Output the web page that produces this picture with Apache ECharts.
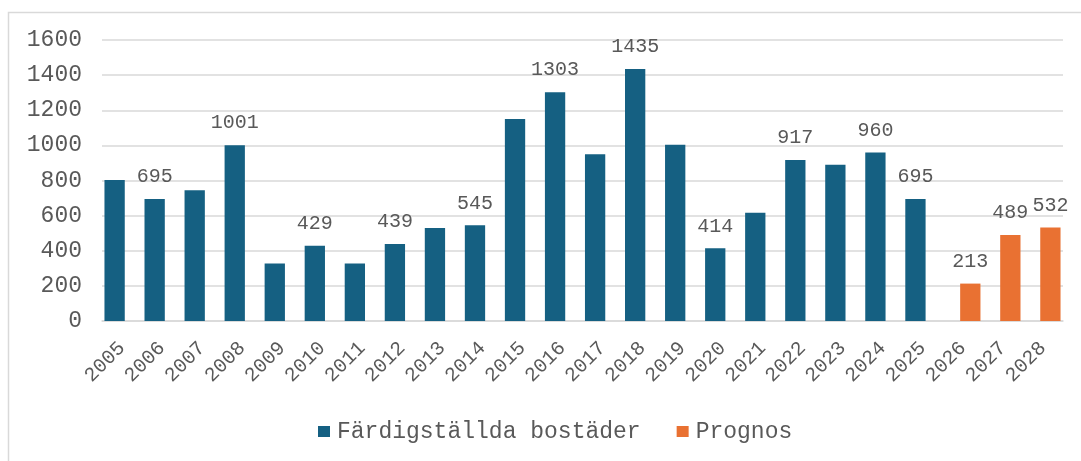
<!DOCTYPE html>
<html lang="sv">
<head>
<meta charset="utf-8">
<title>Färdigställda bostäder</title>
<script src="https://cdn.jsdelivr.net/npm/echarts@6/dist/echarts.min.js"></script>
<style>
  html, body { margin: 0; padding: 0; background: #ffffff; }
  #chart { width: 1081px; height: 461px; }
</style>
</head>
<body>
<div id="chart"></div>
<script>
// Years on the category axis
const years = ['2005', '2006', '2007', '2008', '2009', '2010', '2011', '2012',
  '2013', '2014', '2015', '2016', '2017', '2018', '2019', '2020', '2021',
  '2022', '2023', '2024', '2025', '2026', '2027', '2028'];

// Completed dwellings per year (null where only a forecast exists)
const completed = [803, 695, 745, 1001, 328, 429, 328, 439, 530, 545, 1150,
  1303, 950, 1435, 1004, 414, 617, 917, 890, 960, 695, null, null, null];

// Forecast for the coming years
const forecast = [null, null, null, null, null, null, null, null, null, null,
  null, null, null, null, null, null, null, null, null, null, null, 213, 489, 532];

// Years whose bar carries a value label
const labeledYears = ['2006', '2008', '2010', '2012', '2014', '2016', '2018',
  '2020', '2022', '2024', '2025', '2026', '2027', '2028'];

// Value axis ticks
const yMin = 0, yMax = 1600, yStep = 200;

const FONT = '"Liberation Mono", "DejaVu Sans Mono", monospace';
const TEXT = '#595959';
const GRID = '#d9d9d9';

function withLabels(values) {
  return values.map((v, i) => {
    if (v === null) return '-';
    return { value: v, label: { show: labeledYears.includes(years[i]) } };
  });
}

const chart = echarts.init(document.getElementById('chart'), null, { renderer: 'canvas' });

chart.setOption({
  animation: false,
  backgroundColor: '#ffffff',
  textStyle: { fontFamily: FONT },
  graphic: [{
    type: 'rect',
    shape: { x: 8.5, y: 12.5, width: 1200, height: 600 },
    style: { fill: 'none', stroke: GRID, lineWidth: 1.5 },
    silent: true
  }],
  grid: { left: 102, right: 18, top: 40, bottom: 140, containLabel: false },
  legend: {
    left: 313,
    top: 415,
    itemWidth: 12,
    itemHeight: 11,
    itemGap: 36,
    icon: 'rect',
    textStyle: { fontFamily: FONT, fontSize: 23, color: TEXT, padding: [0, 0, 0, 2] },
    data: ['Färdigställda bostäder', 'Prognos']
  },
  xAxis: {
    type: 'category',
    data: years,
    axisLine: { show: true, lineStyle: { color: GRID, width: 1.5 } },
    axisTick: { show: false },
    axisLabel: {
      interval: 0,
      rotate: 45,
      align: 'right',
      verticalAlign: 'middle',
      margin: 24,
      fontFamily: FONT,
      fontSize: 20,
      color: TEXT
    }
  },
  yAxis: {
    type: 'value',
    min: yMin,
    max: yMax,
    interval: yStep,
    axisLine: { show: false },
    axisTick: { show: false },
    splitLine: { lineStyle: { color: GRID, width: 1.5 } },
    axisLabel: {
      margin: 20,
      fontFamily: FONT,
      fontSize: 23,
      color: TEXT,
      formatter: (v) => String(v)
    }
  },
  series: [
    {
      name: 'Färdigställda bostäder',
      type: 'bar',
      data: withLabels(completed),
      barWidth: 20.3,
      barGap: '-27%',
      itemStyle: { color: '#156082' },
      label: { position: 'top', distance: 12, fontFamily: FONT, fontSize: 20, color: TEXT }
    },
    {
      name: 'Prognos',
      type: 'bar',
      data: withLabels(forecast),
      barWidth: 20.3,
      barGap: '-27%',
      itemStyle: { color: '#E97132' },
      label: { position: 'top', distance: 12, fontFamily: FONT, fontSize: 20, color: TEXT }
    }
  ]
});
</script>
</body>
</html>
